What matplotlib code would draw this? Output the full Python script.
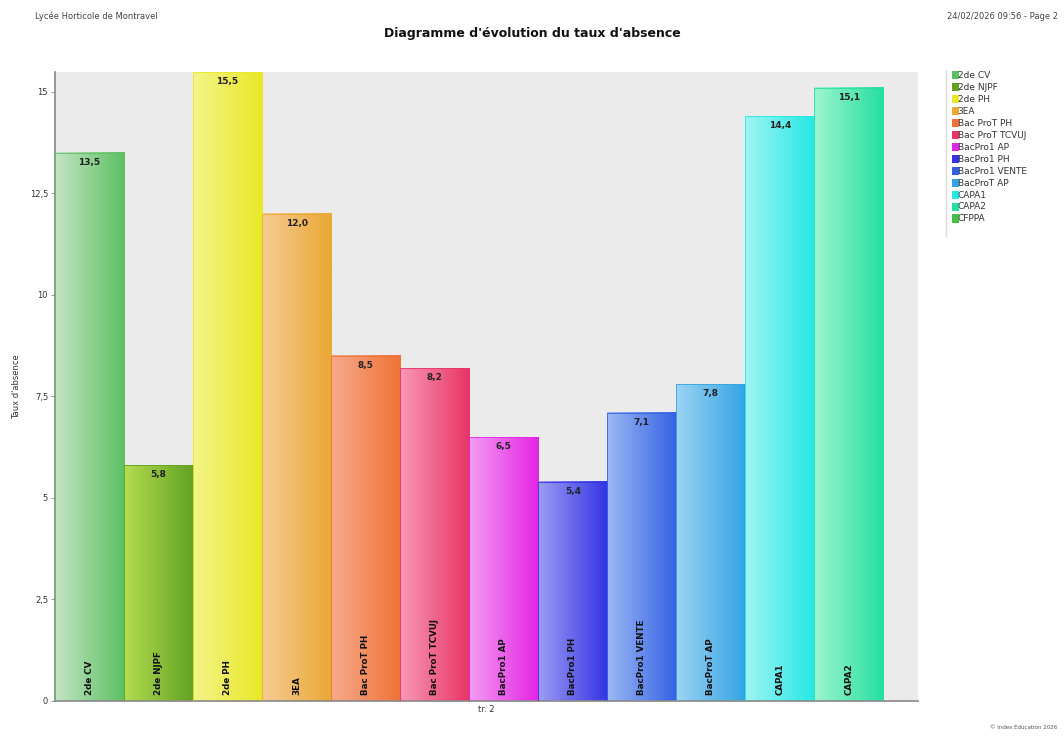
# -*- coding: utf-8 -*-
# Diagramme d'évolution du taux d'absence (barres en dégradé)
import numpy as np
import matplotlib.pyplot as plt
from matplotlib.colors import to_rgb
from matplotlib.patches import Rectangle

# données
classes = ["2de CV", "2de NJPF", "2de PH", "3EA", "Bac ProT PH", "Bac ProT TCVUJ",
           "BacPro1 AP", "BacPro1 PH", "BacPro1 VENTE", "BacProT AP", "CAPA1", "CAPA2"]
taux = [13.5, 5.8, 15.5, 12.0, 8.5, 8.2, 6.5, 5.4, 7.1, 7.8, 14.4, 15.1]
legende = classes + ["CFPPA"]
yticks = [0, 2.5, 5, 7.5, 10, 12.5, 15]

# couleurs (clair -> foncé)
couleurs = [("#c4e4c4", "#5cc062"), ("#b4dc50", "#62a222"), ("#f4f488", "#e8e828"),
            ("#f6cc94", "#eaa834"), ("#f6aa8c", "#f07236"), ("#f898b8", "#e83464"),
            ("#f49cf4", "#e424e4"), ("#9c9cf4", "#3434e4"), ("#9cb8f4", "#3462e4"),
            ("#9cd4f4", "#34a4e4"), ("#a0f4f4", "#24e8e4"), ("#a0f4d0", "#24e0a0"),
            ("#44c044", "#44c044")]

fig = plt.figure(figsize=(10.64, 7.36), dpi=100)
ax = fig.add_axes([0.0517, 0.0476, 0.811, 0.855])
ax.set_facecolor("#ebebeb")

N = 64
for i, v in enumerate(taux):
    c0 = np.array(to_rgb(couleurs[i][0]))
    c1 = np.array(to_rgb(couleurs[i][1]))
    t = np.linspace(0, 1, N)[:, None]
    grad = (c0 * (1 - t) + c1 * t)[None, :, :]
    ax.imshow(grad, extent=[i - 0.5, i + 0.5, 0, v], aspect="auto",
              interpolation="bilinear", zorder=2)
    ax.add_patch(Rectangle((i - 0.5, 0), 1, v, fill=False,
                           edgecolor=couleurs[i][1], lw=0.6, zorder=3))
    ax.text(i, v - 0.12, ("%.1f" % v).replace(".", ","), ha="center", va="top",
            fontsize=6.5, fontweight="bold", color="#222222", zorder=4)
    ax.text(i, 0.15, classes[i], rotation=90, ha="center", va="bottom",
            fontsize=6.3, fontweight="bold", color="#111111", zorder=4)

ax.set_xlim(-0.5, 12.0)
ax.set_ylim(0, 15.5)
ax.set_xticks([])
ax.set_yticks(yticks)
ax.set_yticklabels([("%g" % y).replace(".", ",") for y in yticks], fontsize=6, color="#333333")
ax.tick_params(axis="y", length=3, width=0.6, color="#888888", pad=2)
for s in ["top", "right"]:
    ax.spines[s].set_visible(False)
for s in ["left", "bottom"]:
    ax.spines[s].set_color("#888888")
    ax.spines[s].set_linewidth(1.2)

ax.set_xlabel("tr. 2", fontsize=6, color="#333333", labelpad=3)
ax.set_ylabel("Taux d'absence", fontsize=6, color="#333333", labelpad=6)

# légende
for k, nom in enumerate(legende):
    y = 0.897 - k * 0.0162
    fig.patches.append(Rectangle((0.895, y - 0.005), 0.006, 0.011,
                                 transform=fig.transFigure,
                                 facecolor=couleurs[k][1], edgecolor="none"))
    fig.text(0.9, y, nom, fontsize=6.5, color="#333333", va="center", ha="left")
fig.add_artist(plt.Line2D([0.889, 0.889], [0.68, 0.905], transform=fig.transFigure,
                          color="#dddddd", lw=1))

# en-tête / pied de page
fig.text(0.033, 0.978, "Lycée Horticole de Montravel", fontsize=6, color="#444444", va="center")
fig.text(0.994, 0.978, "24/02/2026 09:56 - Page 2", fontsize=6, color="#444444",
         va="center", ha="right")
fig.text(0.5, 0.955, "Diagramme d'évolution du taux d'absence", fontsize=9,
         fontweight="bold", ha="center", va="center", color="#111111")
fig.text(0.994, 0.008, "© Index Éducation 2026", fontsize=4, color="#555555",
         ha="right", va="bottom")

fig.savefig("out.png", dpi=100)
